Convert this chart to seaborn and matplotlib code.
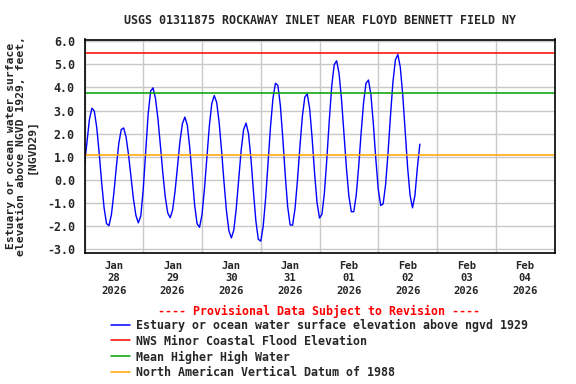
import numpy as np
import pandas as pd
import seaborn as sns
import matplotlib
matplotlib.use("Agg")
import matplotlib.pyplot as plt
import matplotlib.dates as mdates
from matplotlib.lines import Line2D

# hourly gage height readings (feet, NGVD29) starting 2026-01-28 00:00
start = "2026-01-28 00:00"
elevation = [
    0.70, 1.62, 2.61, 3.10, 2.98, 2.27, 1.16, -0.10, -1.20, -1.88,
    -1.97, -1.49, -0.56, 0.56, 1.57, 2.18, 2.25, 1.85, 1.08, 0.12,
    -0.82, -1.53, -1.85, -1.55, -0.39, 1.25, 2.84, 3.84, 3.98, 3.52,
    2.64, 1.50, 0.30, -0.74, -1.42, -1.63, -1.29, -0.48, 0.60, 1.67,
    2.44, 2.72, 2.37, 1.40, 0.13, -1.09, -1.89, -2.04, -1.49, -0.39,
    1.00, 2.34, 3.30, 3.65, 3.35, 2.49, 1.26, -0.11, -1.34, -2.20,
    -2.50, -2.16, -1.22, 0.04, 1.29, 2.18, 2.46, 2.00, 0.92, -0.47,
    -1.76, -2.56, -2.64, -2.00, -0.78, 0.77, 2.32, 3.54, 4.18, 4.09,
    3.23, 1.82, 0.22, -1.15, -1.94, -1.95, -1.24, -0.01, 1.44, 2.75,
    3.58, 3.72, 3.07, 1.79, 0.29, -0.99, -1.64, -1.48, -0.56, 0.92,
    2.58, 4.06, 4.98, 5.15, 4.60, 3.47, 2.01, 0.52, -0.69, -1.37,
    -1.37, -0.66, 0.58, 2.03, 3.34, 4.18, 4.32, 3.68, 2.42, 0.92,
    -0.39, -1.10, -1.03, -0.20, 1.18, 2.78, 4.23, 5.19, 5.42, 4.88,
    3.68, 2.11, 0.54, -0.66, -1.20, -0.65, 0.55, 1.55,
]

flood_minor = 5.5      # NWS minor coastal flood elevation
mhhw = 3.75            # mean higher high water
navd88 = 1.1           # NAVD 1988 datum

yticks = [6, 5, 4, 3, 2, 1, 0, -1, -2, -3]

series_label = "Estuary or ocean water surface elevation above ngvd 1929"
ref_labels = ["NWS Minor Coastal Flood Elevation",
              "Mean Higher High Water",
              "North American Vertical Datum of 1988"]

title = "USGS 01311875 ROCKAWAY INLET NEAR FLOYD BENNETT FIELD NY"
ylabel = "Estuary or ocean water surface\nelevation above NGVD 1929, feet,\n[NGVD29]"

times = pd.date_range(start, periods=len(elevation), freq="h")
df = pd.DataFrame({"time": times, "elev": elevation})

sns.set_style("white")
plt.rcParams["font.family"] = ["DejaVu Sans Mono"]
plt.rcParams["font.weight"] = "bold"

fig = plt.figure(figsize=(5.76, 3.84), dpi=100)
ax = fig.add_axes([84.5 / 576, 1 - 252.5 / 384, 470 / 576, 213 / 384])

sns.lineplot(data=df, x="time", y="elev", ax=ax, color="#0000ff", linewidth=1.0)
ax.axhline(flood_minor, color="#ff0000", linewidth=1.1)
ax.axhline(mhhw, color="#00a000", linewidth=1.1)
ax.axhline(navd88, color="#ffa500", linewidth=1.1)

x0 = pd.Timestamp("2026-01-28")
x1 = pd.Timestamp("2026-02-05")
ax.set_xlim(x0, x1)
ax.set_ylim(-3.13, 6.07)

midnights = pd.date_range(x0, x1, freq="D")
noons = midnights[:-1] + pd.Timedelta(hours=12)
ax.set_xticks(noons)
ax.xaxis.set_major_formatter(mdates.DateFormatter("%b\n%d\n%Y"))
ax.set_xticks(midnights, minor=True)
ax.set_yticks(yticks)
ax.set_yticklabels([f"{v:.1f}" for v in yticks])

ax.grid(which="minor", axis="x", color="#c8c8c8", linewidth=1)
ax.grid(which="major", axis="y", color="#c8c8c8", linewidth=1)
ax.set_axisbelow(True)
ax.tick_params(axis="both", which="both", length=0)
ax.tick_params(axis="x", labelsize=7.6, pad=6)
ax.tick_params(axis="y", labelsize=8.4, pad=7)
for lab in ax.get_xticklabels():
    lab.set_linespacing(1.3)
    lab.set_fontweight("bold")
for lab in ax.get_yticklabels():
    lab.set_fontweight("bold")

for s in ax.spines.values():
    s.set_color("black")
    s.set_linewidth(1.2)

ax.set_xlabel("")
ax.set_ylabel(ylabel, fontsize=8.2, fontweight="bold", linespacing=1.05, labelpad=7)
ax.set_title(title, fontsize=8.4, fontweight="bold", pad=11)

fig.text(319 / 576, 1 - 311 / 384, "---- Provisional Data Subject to Revision ----",
         color="#ff0000", fontsize=8.4, fontweight="bold", ha="center", va="center")

handles = [Line2D([], [], color="#0000ff", linewidth=1.1),
           Line2D([], [], color="#ff0000", linewidth=1.1),
           Line2D([], [], color="#00a000", linewidth=1.1),
           Line2D([], [], color="#ffa500", linewidth=1.1)]
fig.legend(handles, [series_label] + ref_labels, loc="upper left",
           bbox_to_anchor=(111 / 576, 1 - 318.5 / 384), frameon=False,
           handlelength=1.6, handletextpad=0.5,
           labelspacing=0.25, borderpad=0, borderaxespad=0,
           prop={"weight": "bold", "size": 8.4})

fig.savefig("out.png", dpi=100)
